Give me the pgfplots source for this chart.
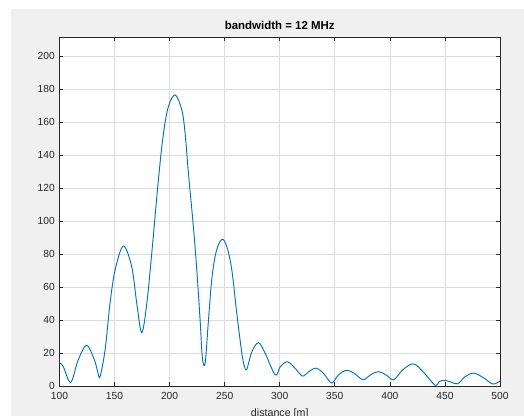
\documentclass[border=0pt]{standalone}
\usepackage{fontspec}
\setmainfont{Liberation Sans}
\usepackage{pgfplots}
\pgfplotsset{compat=1.18}
\definecolor{figgray}{HTML}{F0F0F0}
\definecolor{axgray}{HTML}{262626}
\definecolor{gridgray}{HTML}{DCDCDC}
\definecolor{mblue}{HTML}{0072BD}

\begin{document}
\begin{tikzpicture}[x=0.75pt,y=0.75pt]
\useasboundingbox (0,0) rectangle (524,416);
\clip (0,0) rectangle (524,416);
\fill[white] (0,0) rectangle (524,416);
\fill[figgray] (11,0) rectangle (524.5,407);
\begin{axis}[
    at={(44.6pt,22.5pt)}, anchor=south west,
    scale only axis,
    width=330.4pt, height=261.75pt,
    xmin=100, xmax=500,
    ymin=0, ymax=211.5,
    xtick={100,150,...,500},
    ytick={0,20,...,200},
    axis background/.style={fill=white},
    axis line style={axgray,line width=0.6pt},
    tick style={axgray,line width=0.5pt},
    tick align=inside, tick pos=both,
    major tick length=3pt,
    grid=major,
    grid style={gridgray,line width=0.5pt},
    /pgf/number format/assume math mode=true,
    ticklabel style={font=\fontsize{7.7}{9}\selectfont, text=axgray},
    xticklabel style={yshift=-1.2pt},
    title={bandwidth = 12 MHz},
    title style={at={(axis description cs:0.5,1)},anchor=base,yshift=-0.7pt,
        font=\bfseries\fontsize{8.6}{10}\selectfont, text=black},
    xlabel={distance [m]},
    xlabel style={at={(axis description cs:0.5,0)},anchor=base,yshift=-23pt,
        font=\fontsize{8}{10}\selectfont, text=axgray},
]
\addplot[mblue, line width=0.7pt, smooth, tension=0.55] coordinates {
    (100,14.1) (103.5,11.7) (110.2,2.2) (117,15.8) (124.7,24.7)
    (131.7,15.8) (134.7,8.7) (136.8,5.6) (141.4,21.8) (145.9,50)
    (150.5,70.3) (158,84.8) (165.6,72.3) (170.2,50) (174.7,32.3)
    (179.3,50) (183.8,80.4) (189.8,124.8) (194.4,153) (198.9,169.3)
    (205,176.4) (211.1,167.3) (214.1,153) (217.1,128.9) (221.6,96.5)
    (224.7,70.3) (227.7,40) (229.8,16.8) (232.3,14.1) (235.3,40)
    (238.4,65.3) (242.3,81.4) (247.5,88.9) (252,84.4) (256.5,70.3)
    (261,44) (265.6,19.8) (268,11.7) (270.1,10.1) (274.7,20.8)
    (280.7,26.2) (286.8,19.8) (295.9,6.7) (300.5,11.7) (307.1,14.7)
    (314,10.7) (320.7,6) (326,8.5) (333,10.8) (340,7.5)
    (347,1.8) (353,6.5) (360.5,9.5) (368,7.5) (375.6,3.8)
    (383,7) (390,8.7) (397,6.5) (403.5,3.8) (412,10)
    (421.6,13.4) (431,8) (441,0.5) (445,2.8) (449.8,3.4)
    (455,2.5) (461.6,1.3) (468,5.5) (476,7.8) (485,5)
    (493.5,1.2) (500,3)
};
\end{axis}
\end{tikzpicture}
\end{document}
